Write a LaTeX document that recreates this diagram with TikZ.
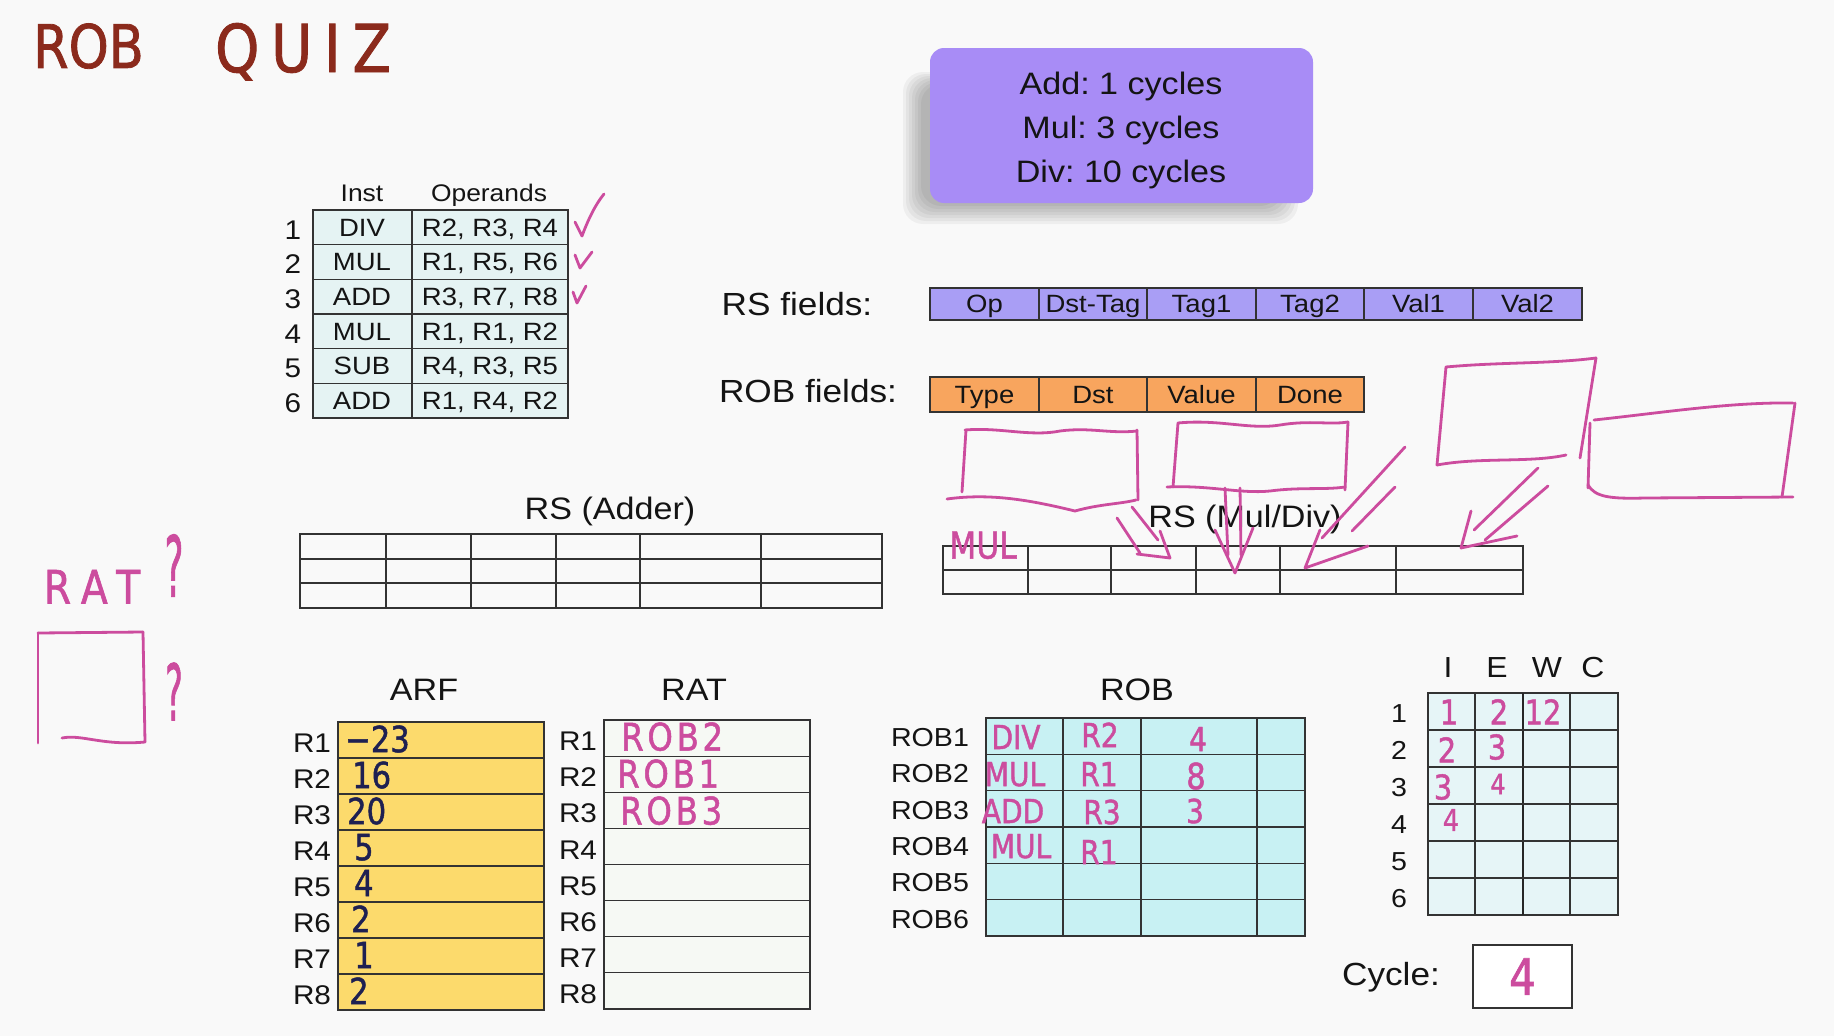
\documentclass[tikz,border=0pt]{standalone}
\usepackage{fontspec}
\setmainfont[FakeStretch=1.1]{Liberation Sans}
\newfontfamily\hand[FakeStretch=0.85, FakeBold=1.3]{DejaVu Sans}
\usetikzlibrary{calc}
\definecolor{bgc}{HTML}{F9F9F9}
\definecolor{pinkc}{HTML}{CC4C9E}
\definecolor{navy}{HTML}{1E2052}
\definecolor{titlec}{HTML}{8B2A1C}
\definecolor{boxpurple}{HTML}{A88CF6}
\definecolor{rsfill}{HTML}{A99EF5}
\definecolor{robfill}{HTML}{F8A55E}
\definecolor{instfill}{HTML}{E5F3F3}
\definecolor{arffill}{HTML}{FCDA6C}
\definecolor{ratfill}{HTML}{F6F9F4}
\definecolor{robtab}{HTML}{C8F1F3}
\definecolor{iewcfill}{HTML}{E6F5F7}
\newcommand\fsz[1]{\fontsize{#1}{#1}\selectfont}
\frenchspacing
\begin{document}
\begin{tikzpicture}[x=1pt,y=-1pt,
  tt/.style={inner sep=0pt, font=\fsz{#1}, text=black!92, text height={0.716*#1pt}, text depth=0pt},
  hw/.style={inner sep=0pt, font=\hand\fsz{#1}, text=pinkc, text height={0.73*#1pt}, text depth=0pt},
  hwn/.style={hw=#1, text=navy},
  gridl/.style={draw=black!80, line width=1.1pt},
  pk/.style={draw=pinkc, line width=2.8pt, line cap=round, line join=round}]
\useasboundingbox (0,0) rectangle (1834,1036);
\fill[bgc] (0,0) rectangle (1834,1036);

% ---------- title ----------
\node[hw=60, text=titlec, anchor=west] (ttlrob) at (33,46) {ROB};
\node[inner sep=0pt, font=\hand\addfontfeature{LetterSpace=18}\fsz{66}, text=titlec, text height=48pt, text depth=0pt, anchor=west] (ttlquiz) at (215,48) {QUIZ};

% ---------- latency box ----------
\foreach \k in {0,...,6}
  \fill[black, opacity=0.045, rounded corners=20] ({903+\k*3},{72+\k*2}) rectangle ({1298-\k*3},{224-\k*3});
\fill[boxpurple, rounded corners=14] (930,48) rectangle (1313,203);
\node[tt=31] (lat1) at (1121,83) {Add: 1 cycles};
\node[tt=31] (lat2) at (1121,127) {Mul: 3 cycles};
\node[tt=31] (lat3) at (1121,171) {Div: 10 cycles};

% ---------- instruction table ----------
\node[tt=24] (hinst) at (362,193) {Inst};
\node[tt=24] (hopnd) at (489,193) {Operands};
\fill[instfill] (313,210) rectangle (568,418);
\draw[gridl] (313,210) rectangle (568,418);
\draw[gridl] (412,210) -- (412,418);
\foreach \i in {1,...,5} \draw[gridl] (313,{210+\i*34.67}) -- (568,{210+\i*34.67});
\foreach \n/\op/\a/\b/\c in {1/DIV/R2/R3/R4, 2/MUL/R1/R5/R6, 3/ADD/R3/R7/R8, 4/MUL/R1/R1/R2, 5/SUB/R4/R3/R5, 6/ADD/R1/R4/R2}{
  \node[tt=27] (inum\n) at (293,{210+(\n-0.5)*34.67+2}) {\n};
  \node[tt=25] (iop\n) at (362,{210+(\n-0.5)*34.67}) {\op};
  \node[tt=25] (iarg\n) at (490,{210+(\n-0.5)*34.67}) {\a, \b, \c};
}
% check marks
\draw[pk] (575,222) -- (582,236) .. controls (588,220) and (595,205) .. (604,194);
\draw[pk] (575,255) -- (580,268) -- (592,252);
\draw[pk] (573,292) -- (577,303) -- (586,286);

% ---------- RS fields ----------
\node[tt=32] (rsflab) at (797,304) {RS fields:};
\fill[rsfill] (930,288) rectangle (1582,320);
\draw[gridl] (930,288) rectangle (1582,320);
\foreach \x in {1039,1147,1256,1364,1473} \draw[gridl] (\x,288) -- (\x,320);
\foreach \t/\x [count=\i] in {Op/984.5, Dst-Tag/1093, Tag1/1201.5, Tag2/1310, Val1/1418.5, Val2/1527.5}
  \node[tt=25] (rsf\i) at (\x,304) {\t};

% ---------- ROB fields ----------
\node[tt=32] (robflab) at (808,391) {ROB fields:};
\fill[robfill] (930,377) rectangle (1364,412);
\draw[gridl] (930,377) rectangle (1364,412);
\foreach \x in {1039,1147,1256} \draw[gridl] (\x,377) -- (\x,412);
\foreach \t/\x [count=\i] in {Type/984.5, Dst/1093, Value/1201.5, Done/1310}
  \node[tt=25] (robf\i) at (\x,394.5) {\t};

% ---------- RS (Adder) ----------
\node[tt=31] (rsadd) at (610,508) {RS (Adder)};
\draw[gridl] (300,534) rectangle (882,608);
\foreach \x in {386,471,556,640,761} \draw[gridl] (\x,534) -- (\x,608);
\foreach \y in {559,583} \draw[gridl] (300,\y) -- (882,\y);

% ---------- RS (Mul/Div) ----------
\node[tt=31] (rsmul) at (1245,516) {RS (Mul/Div)};
\draw[gridl] (943,546) rectangle (1523,594);
\foreach \x in {1028,1111,1196,1280,1396} \draw[gridl] (\x,546) -- (\x,594);
\draw[gridl] (943,570) -- (1523,570);
\node[hw=37] (mulrs) at (983,545) {MUL};

% pink hand-drawn boxes
\draw[pk] (965,430) .. controls (1000,427) and (1030,437) .. (1060,431) .. controls (1090,427) and (1110,434) .. (1137,431);
\draw[pk] (966,430) -- (962,492);
\draw[pk] (1137,430) -- (1138,500);
\draw[pk] (947,499) .. controls (990,493) and (1030,500) .. (1075,511) .. controls (1100,504) and (1120,504) .. (1136,500);

\draw[pk] (1178,423) .. controls (1220,419) and (1250,430) .. (1280,425) .. controls (1310,420) and (1330,425) .. (1348,422);
\draw[pk] (1178,423) -- (1173,487);
\draw[pk] (1348,422) -- (1345,490);
\draw[pk] (1167,487) .. controls (1210,485) and (1240,494) .. (1270,491) .. controls (1300,487) and (1325,490) .. (1345,487);

\draw[pk] (1446,367) .. controls (1500,362) and (1550,364) .. (1596,358);
\draw[pk] (1446,367) -- (1437,465);
\draw[pk] (1596,358) -- (1580,458);
\draw[pk] (1437,465) .. controls (1480,457) and (1530,463) .. (1566,455);

\draw[pk] (1594,420) .. controls (1660,413) and (1730,402) .. (1793,403);
\draw[pk] (1590,423) -- (1588,488);
\draw[pk] (1795,403) -- (1782,497);
\draw[pk] (1588,485) .. controls (1595,497) and (1610,499) .. (1645,498) -- (1793,497);

% pink hand-drawn arrows
\draw[pk] (1117,518) -- (1140,553);
\draw[pk] (1132,507) -- (1158,540);
\draw[pk] (1160,531) -- (1170,558) -- (1137,554);

\draw[pk] (1225,488) -- (1228,555);
\draw[pk] (1240,488) -- (1241,555);
\draw[pk] (1215,530) -- (1235,573) -- (1253,528);

\draw[pk] (1405,447) -- (1322,538);
\draw[pk] (1395,487) -- (1352,531);
\draw[pk] (1320,530) -- (1305,568) -- (1368,546);

\draw[pk] (1538,468) -- (1474,530);
\draw[pk] (1548,486) -- (1485,540);
\draw[pk] (1471,511) -- (1461,548) -- (1517,536);

% ---------- RAT? ----------
\node[inner sep=0pt, font=\hand\addfontfeature{LetterSpace=25}\fsz{46}, text=pinkc, text height=33pt, text depth=0pt] (ratq) at (92,587) {RAT};
\node[hw=84] (q1) at (174,566) {\scalebox{0.5}[1]{?}};
\draw[pk] (38,633) -- (38,743);
\draw[pk] (38,633) -- (143,632);
\draw[pk] (143,632) -- (145,742);
\draw[pk] (62,738) .. controls (82,734) and (102,746) .. (145,742);
\node[hw=78] (q2) at (174,692) {\scalebox{0.5}[1]{?}};

% ---------- ARF ----------
\node[tt=31] (arft) at (424,689) {ARF};
\fill[arffill] (338,722) rectangle (544,1010);
\draw[gridl] (338,722) rectangle (544,1010);
\foreach \i in {1,...,7} \draw[gridl] (338,{722+\i*36}) -- (544,{722+\i*36});
\foreach \i in {1,...,8} \node[tt=27] (arfl\i) at (312,{722+(\i-0.5)*36+3}) {R\i};
\foreach \v/\x [count=\i] in {{−23}/345, 16/352, 20/347, 5/354, 4/354, 2/351, 1/354, 2/349}
  \node[hwn=36, anchor=west] (arfv\i) at (\x,{722+(\i-0.5)*36-1}) {\v};

% ---------- RAT ----------
\node[tt=31] (ratt) at (694,689) {RAT};
\fill[ratfill] (604,720) rectangle (810,1009);
\draw[gridl] (604,720) rectangle (810,1009);
\foreach \i in {1,...,7} \draw[gridl] (604,{720+\i*36.125}) -- (810,{720+\i*36.125});
\foreach \i in {1,...,8} \node[tt=27] (ratl\i) at (578,{720+(\i-0.5)*36.125+3}) {R\i};
\foreach \t/\x/\y [count=\i] in {ROB2/621/737, ROB1/617/774, ROB3/620/811}
  \node[inner sep=0pt, font=\hand\addfontfeature{LetterSpace=10}\fsz{38}, text=pinkc, text height=27pt, text depth=0pt, anchor=west] (ratv\i) at (\x,\y) {\t};

% ---------- ROB ----------
\node[tt=31] (robt) at (1137,689) {ROB};
\fill[robtab] (986,718) rectangle (1305,936);
\draw[gridl] (986,718) rectangle (1305,936);
\foreach \x in {1063,1141,1257} \draw[gridl] (\x,718) -- (\x,936);
\foreach \i in {1,...,5} \draw[gridl] (986,{718+\i*36.33}) -- (1305,{718+\i*36.33});
\foreach \i in {1,...,6} \node[tt=26] (robl\i) at (930,{718+(\i-0.5)*36.33+1}) {ROB\i};
\node[hw=33] (rob1a) at (1016,737) {DIV};
\node[hw=33] (rob1b) at (1100,735) {R2};
\node[hw=33] (rob1c) at (1198,739) {4};
\node[hw=33] (rob2a) at (1015,774) {MUL};
\node[hw=33] (rob2b) at (1099,774) {R1};
\node[hw=36] (rob2c) at (1196,776) {8};
\node[hw=33] (rob3a) at (1013,811) {ADD};
\node[hw=33] (rob3b) at (1102,812) {R3};
\node[hw=33] (rob3c) at (1195,811) {3};
\node[hw=33] (rob4a) at (1021,846) {MUL};
\node[hw=33] (rob4b) at (1099,852) {R1};

% ---------- I E W C ----------
\foreach \h/\x in {I/1448, E/1497, W/1547, C/1593} \node[tt=29] (hd\h) at (\x,667) {\h};
\fill[iewcfill] (1428,693) rectangle (1618,915);
\draw[gridl] (1428,693) rectangle (1618,915);
\foreach \x in {1475,1570} \draw[gridl] (\x,693) -- (\x,915);
\draw[draw=black!85, line width=2.2pt] (1523,693) -- (1523,915);
\foreach \i in {1,...,5} \draw[gridl] (1428,{693+\i*37}) -- (1618,{693+\i*37});
\foreach \i in {1,...,6} \node[tt=26] (iewcl\i) at (1399,{693+(\i-0.5)*37+2}) {\i};
\node[hw=34] (ie11) at (1449,712) {1};
\node[hw=34] (ie12) at (1499,712) {2};
\node[hw=34] (ie13) at (1543,712) {12};
\node[hw=34] (ie21) at (1447,750) {2};
\node[hw=34] (ie22) at (1497,747) {3};
\node[hw=34] (ie31) at (1443,787) {3};
\node[hw=28] (ie32) at (1498,784) {4};
\node[hw=30] (ie41) at (1451,820) {4};

% ---------- Cycle ----------
\node[tt=32] (cyclab) at (1391,974) {Cycle:};
\node[draw=black!80, line width=1.1pt, fill=white, minimum width=99pt, minimum height=63pt, inner sep=0pt] (cycbox) at (1522.5,976.5) {};
\node[hw=50] (cycv) at (cycbox.center) {4};
\end{tikzpicture}
\end{document}
